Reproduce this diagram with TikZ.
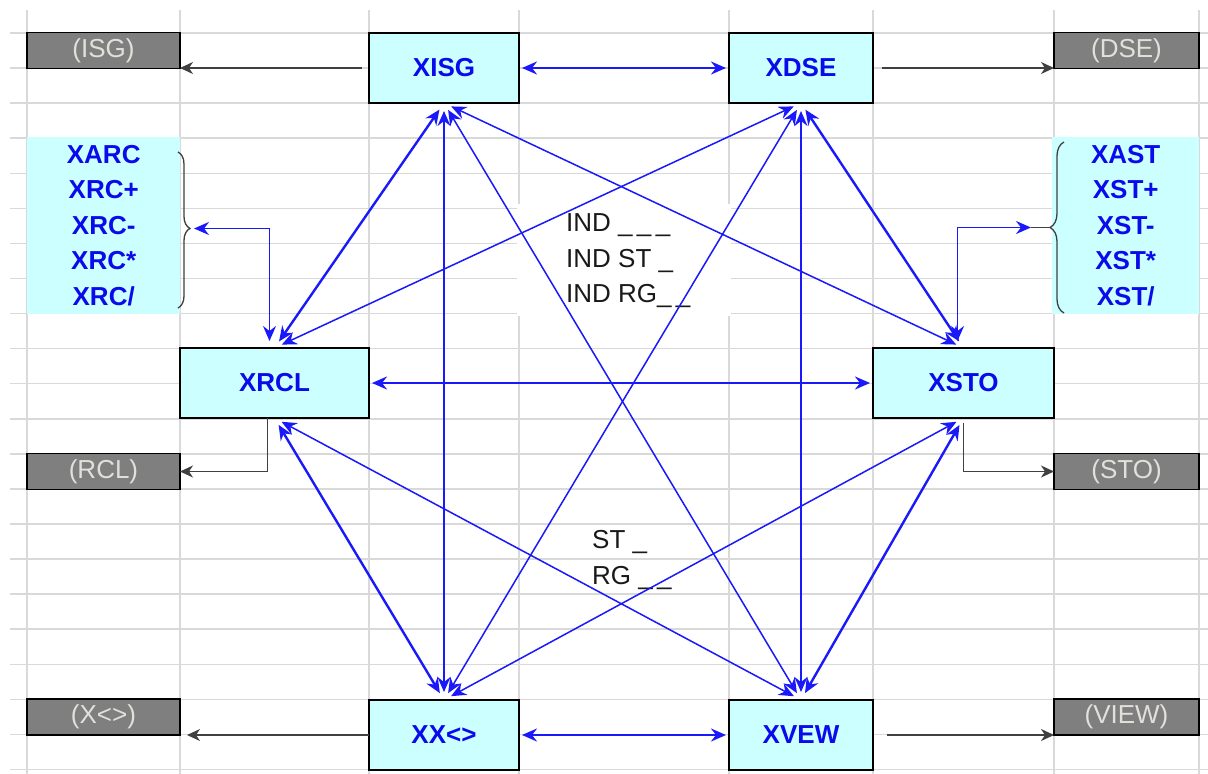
\documentclass[tikz,border=0pt]{standalone}
\usepackage{fontspec}
\setmainfont{Liberation Sans}
\usepackage{xcolor}
\usetikzlibrary{arrows.meta, positioning, calc, decorations.pathreplacing}

\definecolor{cellcyan}{RGB}{204,255,255}
\definecolor{cmdblue}{RGB}{10,10,235}
\definecolor{linkblue}{RGB}{25,25,250}
\definecolor{oldgray}{RGB}{127,127,127}
\definecolor{oldtext}{RGB}{226,224,218}
\definecolor{gridgray}{RGB}{217,217,217}

\begin{document}
\begin{tikzpicture}[
    x=1pt, y=-1pt,
    font=\fontsize{26}{35.5}\selectfont,
    node distance=210pt,
    >={Stealth[length=15pt, width=13pt, inset=5pt]},
    cmd/.style   ={rectangle, draw=black, line width=1.5pt, fill=cellcyan, outer sep=0pt,
                   minimum height=70pt, inner sep=0pt, text=cmdblue,
                   font=\fontsize{26}{35.5}\selectfont\bfseries},
    orig/.style  ={rectangle, draw=black, line width=1.5pt, fill=oldgray, outer sep=0pt,
                   minimum height=36pt, inner sep=0pt, text=oldtext},
    lst/.style   ={rectangle, fill=cellcyan, minimum height=177pt, inner sep=0pt,
                   align=center, text=cmdblue, font=\fontsize{26}{35.5}\selectfont\bfseries},
    note/.style  ={inner sep=0pt, align=left, text=black!90},
    gridln/.style={gridgray, line width=1.5pt},
    lnk/.style   ={<->, linkblue, line width=2.4pt},
    crs/.style   ={<->, linkblue, line width=1.5pt},
    brk/.style   ={<->, linkblue, line width=1.7pt},
    blk/.style   ={-{Stealth[length=13pt, width=12pt, inset=4pt]}, black!75, line width=1.3pt},
    brc/.style   ={black!75, line width=1.3pt},
]
\useasboundingbox (0,0) rectangle (1208,774);
\fill[white] (0,0) rectangle (1208,774);

% ---- Sheet grid ----
\foreach \gx in {27, 180, 369, 519, 729, 873, 1054, 1199}
   \draw[gridln] (\gx,10) -- (\gx,774);
\foreach \gy in {0,...,21}
   \draw[gridln] (10,{33+35.07*\gy}) -- (1208,{33+35.07*\gy});
\fill[white] (517,204) rectangle (731,316);

% ---- X commands ----
\node[cmd, minimum width=150pt, anchor=north west] (xisg) at (369,33) {XISG};
\node[cmd, minimum width=144pt, right=of xisg] (xdse) {XDSE};
\node[cmd, minimum width=189pt, anchor=north west] (xrcl) at (180,348) {XRCL};
\node[cmd, minimum width=181pt, right=504pt of xrcl] (xsto) {XSTO};
\node[cmd, minimum width=150pt, anchor=north west] (xxc) at (369,700) {XX<>};
\node[cmd, minimum width=144pt, right=of xxc] (xvew) {XVEW};

% ---- Original commands ----
\node[orig, minimum width=153pt, anchor=north west] (isg)  at (27,32.5)    {(ISG)};
\node[orig, minimum width=145pt, anchor=north west] (dse)  at (1054,32.5)  {(DSE)};
\node[orig, minimum width=153pt, anchor=north west] (rcl)  at (27,453.5)   {(RCL)};
\node[orig, minimum width=145pt, anchor=north west] (sto)  at (1054,453.5) {(STO)};
\node[orig, minimum width=153pt, anchor=north west] (xc)   at (27,699)     {(X<>)};
\node[orig, minimum width=145pt, anchor=north west] (view) at (1054,699)   {(VIEW)};

% ---- Register arithmetic lists ----
\node[lst, minimum width=153pt, anchor=north west] (rclist) at (27,136.5)
   {XARC\\XRC+\\XRC-\\XRC*\\XRC/};
\node[lst, minimum width=147pt, anchor=north west] (stlist) at (1052,136.5)
   {XAST\\XST+\\XST-\\XST*\\XST/};

\draw[brc, decorate, decoration={brace, amplitude=12pt, aspect=0.49}] (178,152) -- (178,308);
\draw[brc, decorate, decoration={brace, amplitude=14pt}] (1064,313) -- (1064,142);
\coordinate (rctip) at (191,228.5);
\coordinate (sttip) at (1031,227.5);
\draw[brc] (1050,227.5) -- (sttip);

% ---- Labels ----
\node[note, anchor=west] (indlbl) at (566,261) {IND \_\,\_\,\_\\IND ST \_\\IND RG\_\,\_};
\node[note, anchor=west] (stlbl)  at (592,560) {ST \_\\RG \_\,\_};

% ---- Arrows: between X commands ----
\foreach \a/\b in {xisg/xdse, xrcl/xsto, xxc/xvew}
   \draw[lnk, shorten <=3pt, shorten >=3pt] (\a.east) -- (\b.west);
\foreach \a/\b in {xisg.south/xrcl.north, xdse.south/xsto.north,
                   xrcl.south/xxc.north, xsto.south/xvew.north}
   \draw[lnk, shorten <=8pt, shorten >=8pt] (\a) -- (\b);
\foreach \a/\b in {xisg/xxc, xisg/xvew, xisg/xsto, xdse/xrcl,
                   xdse/xxc, xdse/xvew, xrcl/xvew, xsto/xxc}
   \draw[crs, shorten <=8pt, shorten >=8pt] (\a.south) -- (\b.north);

\draw[brk, shorten <=3pt, shorten >=7pt] (rctip) -| ($(xrcl.north)+(-5,0)$);
\draw[brk, shorten >=7pt] (sttip) -| ($(xsto.north)+(-6,0)$);

% ---- Arrows: to original commands ----
\draw[blk, shorten <=7pt]  (xisg.west) -- (xisg.west -| isg.east);
\draw[blk, shorten <=9pt]  (xdse.east) -- (xdse.east -| dse.west);
\draw[blk]                 ($(xrcl.south)+(-7,0)$) |- (rcl.east);
\draw[blk, shorten <=5pt]  (xsto.south) |- (sto.west);
\draw[blk, shorten >=7pt]  (xxc.west) -- (xxc.west -| xc.east);
\draw[blk, shorten <=14pt] (xvew.east) -- (xvew.east -| view.west);

\end{tikzpicture}
\end{document}
